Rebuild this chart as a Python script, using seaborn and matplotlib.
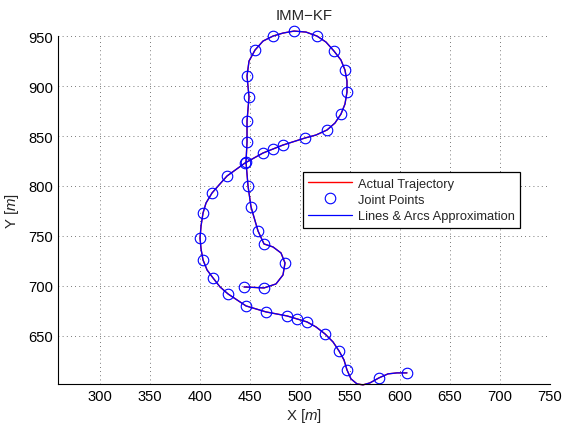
import seaborn as sns
import matplotlib.pyplot as plt
import numpy as np
import pandas as pd

# joint points (x, y in metres)
joint_x = [444, 464, 485, 464, 458, 451, 448, 446, 447, 447, 449, 447, 455, 473, 494,
           517, 534, 545, 547, 541, 527, 505, 483, 473, 463, 445, 427, 412, 403, 400,
           403, 413, 428, 446, 466, 487, 497, 507, 525, 539, 547, 579, 607]
joint_y = [699, 698, 723, 742, 755, 779, 800, 824, 844, 865, 889, 910, 936, 950, 955,
           950, 935, 916, 894, 872, 856, 848, 841, 837, 833, 823, 810, 793, 773, 748,
           726, 708, 692, 680, 674, 670, 667, 664, 652, 635, 616, 608, 613]

# trajectory
traj_x = [444, 464, 476, 483, 485, 481, 473, 464, 458, 451, 448, 446, 447, 447, 449, 447,
          449, 455, 463, 473, 483, 494, 506, 517, 526, 534, 541, 545, 547, 547, 545, 541,
          535, 527, 516, 505, 483, 473, 463, 445, 427, 419, 412, 406, 403, 401, 400, 401,
          403, 407, 413, 420, 428, 437, 446, 466, 487, 497, 507, 516, 525, 533, 539, 544,
          547, 551, 557, 563, 570, 579, 588, 597, 607]
traj_y = [699, 698, 702, 711, 723, 733, 739, 742, 755, 779, 800, 824, 844, 865, 889, 910,
          925, 936, 945, 950, 953, 955, 954, 950, 944, 935, 926, 916, 905, 894, 882, 872,
          863, 856, 851, 848, 841, 837, 833, 823, 810, 801, 793, 783, 773, 760, 748, 737,
          726, 716, 708, 699, 692, 686, 680, 674, 670, 667, 664, 659, 652, 644, 635, 626,
          616, 607, 602, 601, 603, 608, 612, 613, 613]

x_ticks = [300, 350, 400, 450, 500, 550, 600, 650, 700, 750]
y_ticks = [650, 700, 750, 800, 850, 900, 950]

sns.set_style("white")
plt.rcParams['font.family'] = ['Liberation Sans', 'DejaVu Sans']
plt.rcParams['mathtext.fontset'] = 'custom'
plt.rcParams['mathtext.it'] = 'Liberation Sans:italic'
plt.rcParams['mathtext.rm'] = 'Liberation Sans'

traj = pd.DataFrame({'x': traj_x, 'y': traj_y})

fig = plt.figure(figsize=(5.64, 4.31), dpi=100)
ax = fig.add_axes([0.103, 0.107, 0.872, 0.807])

sns.lineplot(data=traj, x='x', y='y', sort=False, estimator=None, color='red',
             linewidth=1.0, ax=ax, label='Actual Trajectory', clip_on=False)
ax.plot(joint_x, joint_y, linestyle='none', marker='o', markersize=7.6,
        markerfacecolor='none', markeredgecolor='blue', markeredgewidth=0.8,
        label='Joint Points', clip_on=False)
sns.lineplot(data=traj, x='x', y='y', sort=False, estimator=None, color='blue',
             linewidth=0.9, ax=ax, label='Lines & Arcs Approximation', clip_on=False)

ax.set_xlim(258, 750)
ax.set_ylim(602, 950)
ax.set_xticks(x_ticks)
ax.set_yticks(y_ticks)
ax.grid(True, linestyle=(0, (1, 4)), color='black', linewidth=0.6, alpha=0.7)
ax.tick_params(direction='in', length=4, width=0.8, labelsize=10.6, colors='black')
for s in ['top', 'right']:
    ax.spines[s].set_visible(False)
for s in ['left', 'bottom']:
    ax.spines[s].set_color('black')
    ax.spines[s].set_linewidth(0.8)

ax.set_title('IMM\u2212KF', fontsize=10.8, pad=12)
ax.set_xlabel(r'X $\it{[m]}$', fontsize=10.8, labelpad=2)
ax.set_ylabel(r'Y $\it{[m]}$', fontsize=10.8, labelpad=5)

leg = ax.legend(loc='upper left', bbox_to_anchor=(0.498, 0.609), fontsize=9.3,
                frameon=True, fancybox=False, edgecolor='black', framealpha=1,
                borderaxespad=0, borderpad=0.42, labelspacing=0.33, handlelength=3.4,
                handletextpad=0.4)
leg.get_frame().set_linewidth(0.9)

fig.savefig('out.png', dpi=100)
